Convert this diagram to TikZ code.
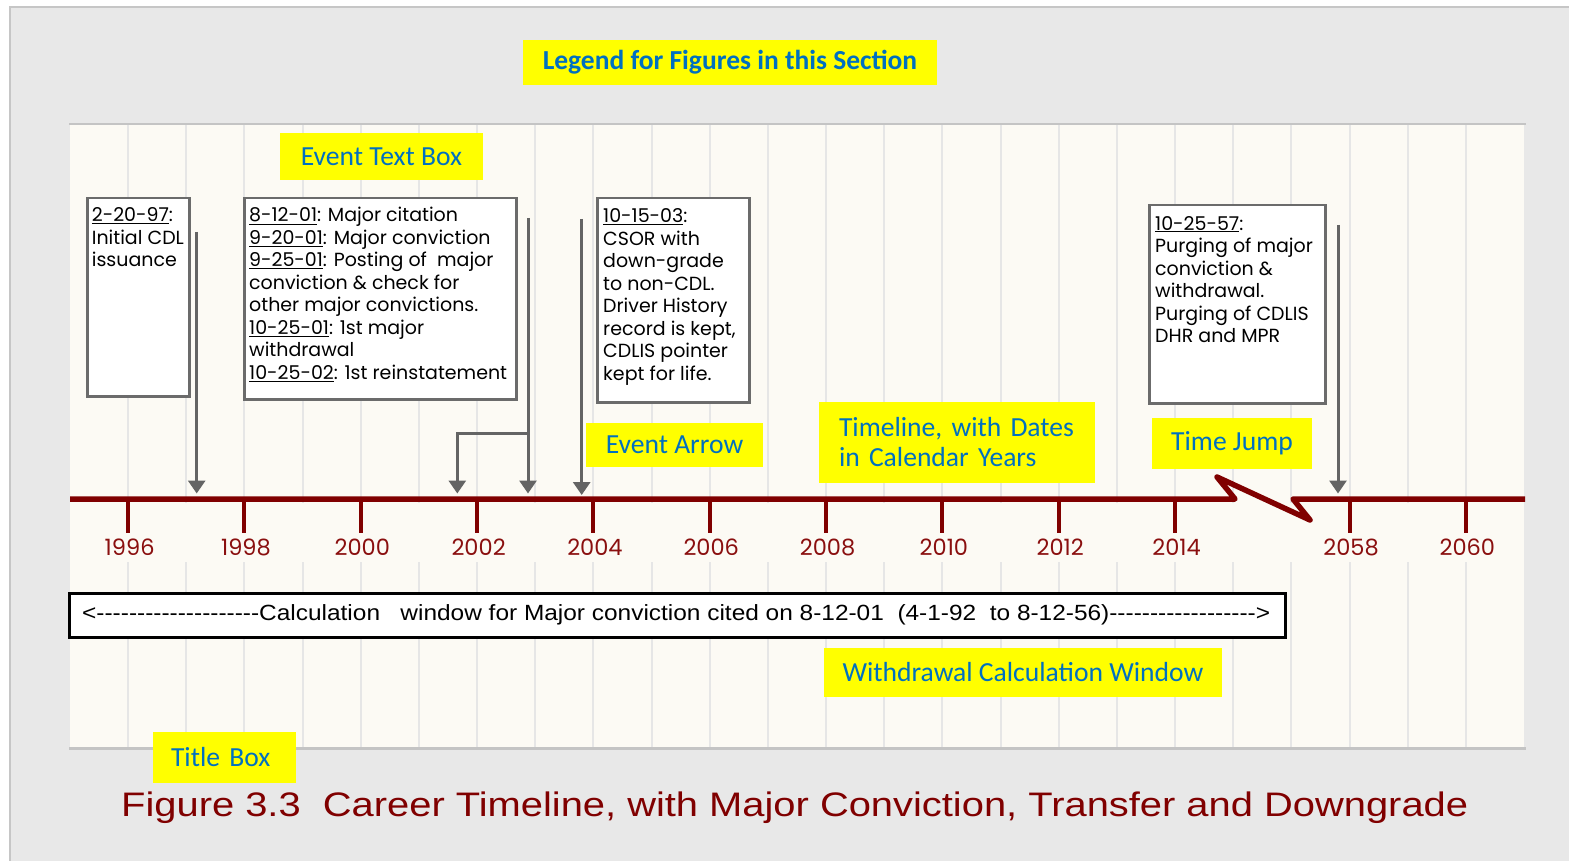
\documentclass[tikz,border=0pt]{standalone}
\usepackage{fontspec}
\usepackage{graphicx}
\setmainfont{Liberation Sans}
\newfontfamily\arialish{Liberation Sans}[Ligatures=TeXOff]
\newfontfamily\gothic{Poppins}
\newfontfamily\calib{Carlito}
\usetikzlibrary{arrows.meta}

\definecolor{framebg}{HTML}{E8E8E8}
\definecolor{framebd}{HTML}{C6C6C6}
\definecolor{plotbg}{HTML}{FCFAF4}
\definecolor{plotbd}{HTML}{C4C4C4}
\definecolor{gridc}{HTML}{E6E6E6}
\definecolor{tlred}{HTML}{800000}
\definecolor{yearred}{HTML}{8A0F0F}
\definecolor{arrowgray}{HTML}{646464}
\definecolor{boxgray}{HTML}{6B6B6B}
\definecolor{noteyellow}{HTML}{FFFF00}
\definecolor{noteblue}{HTML}{0070C0}

\begin{document}
\begin{tikzpicture}[x=1pt,y=-1pt,
  evbox/.style={draw=boxgray, line width=2.5pt, fill=white, inner sep=0pt, anchor=north west},
  evtext/.style={anchor=base west, inner sep=0pt, font=\gothic\fontsize{19}{22.5}\selectfont},
  evarrow/.style={draw=arrowgray, line width=3pt, -{Triangle[width=17pt,length=13pt]}},
  note/.style={fill=noteyellow, text=noteblue, inner sep=0pt, font=\calib\fontsize{27.6}{30}\selectfont},
  gridline/.style={draw=gridc, line width=2pt},
  timeline/.style={draw=tlred, line width=5.5pt, line join=round},
  yeartick/.style={draw=tlred, line width=4pt},
  yearlab/.style={text=yearred, anchor=base, inner sep=0pt, font=\gothic\fontsize{22.5}{22.5}\selectfont}]

\useasboundingbox (0,0) rectangle (1569,861);

% outer frame
\fill[framebg] (10,7) rectangle (1569,861);
\draw[framebd, line width=2pt] (10,861) -- (10,7) -- (1569,7);

% plot area with yearly grid
\fill[plotbg] (70,124) rectangle (1524,748);
\foreach \k in {1,...,24}
  \draw[gridline] ({70+58.16*\k},125) -- ({70+58.16*\k},747);
\fill[plotbg] (70,503) rectangle (1524,562);
\draw[plotbd, line width=2.5pt] (69,124) -- (1526,124);
\draw[plotbd, line width=2.5pt] (69,748.5) -- (1526,748.5);

% event text boxes
\node[evbox, minimum width=102pt, minimum height=198pt] (box97) at (86,197) {};
\node[evtext] (txt97) at (91.7,222) {\parbox[t]{300pt}{\raggedright
  \underline{2-20-97}:\\Initial CDL\\issuance}};

\node[evbox, minimum width=272pt, minimum height=201pt] (box01) at (243,197) {};
\node[evtext] (txt01) at (249,222) {\parbox[t]{300pt}{\raggedright
  \underline{8-12-01}: Major citation\\
  \underline{9-20-01}: Major conviction\\
  \underline{9-25-01}: Posting of\ \ major\\
  conviction \& check for\\
  other major convictions.\\
  \underline{10-25-01}: 1st major\\
  withdrawal\\
  \underline{10-25-02}: 1st reinstatement}};

\node[evbox, minimum width=152pt, minimum height=204pt] (box03) at (596,197) {};
\node[evtext] (txt03) at (603,222.5) {\parbox[t]{300pt}{\raggedright
  \underline{10-15-03}:\\CSOR with\\down-grade\\to non-CDL.\\Driver History\\
  record is kept,\\CDLIS pointer\\kept for life.}};

\node[evbox, minimum width=176pt, minimum height=198pt] (box57) at (1148,204) {};
\node[evtext] (txt57) at (1155,230) {\parbox[t]{300pt}{\raggedright
  \underline{10-25-57}:\\Purging of major\\conviction \&\\withdrawal.\\
  Purging of CDLIS\\DHR and MPR}};

% event arrows
\coordinate (a97s) at (196.7,232);
\coordinate (a97e) at (196.7,493.5);
\coordinate (a02s) at (528,218);
\coordinate (a02e) at (528,493.5);
\coordinate (a01b) at (528,433);
\coordinate (a01e) at (457.3,493.5);
\coordinate (a03s) at (581.7,219);
\coordinate (a03e) at (581.7,495);
\coordinate (a57s) at (1338,225);
\coordinate (a57e) at (1338,493.5);
\draw[evarrow] (a97s) -- (a97e);
\draw[evarrow] (a02s) -- (a02e);
\draw[evarrow] (a01b) -| (a01e);
\draw[evarrow] (a03s) -- (a03e);
\draw[evarrow] (a57s) -- (a57e);

% timeline with the time jump
\draw[timeline] (70,499) -- (1235,499) -- (1217,477) -- (1310,520) -- (1293,499) -- (1525,499);
\foreach \k/\yr in {1/1996,3/1998,5/2000,7/2002,9/2004,11/2006,13/2008,15/2010,17/2012,19/2014,22/2058,24/2060} {
  \draw[yeartick] ({70+58.16*\k},499) -- ({70+58.16*\k},533);
  \node[yearlab] (y\yr) at ({71.5+58.16*\k},555.7) {\yr};
}

% calculation window
\node[draw=black, line width=3pt, fill=white, minimum width=1216pt, minimum height=44pt, inner sep=0pt] (calcwin) at (677,615) {};
\node[anchor=base west, inner sep=0pt] (calctext) at (82,620) {\arialish\fontsize{22}{22}\selectfont
  \resizebox{1188pt}{\height}{<--------------------Calculation\ \ \ window for Major conviction cited on 8-12-01\ \ (4-1-92\ \ to 8-12-56)------------------>}};

% legend notes
\node[note, font=\calib\bfseries\fontsize{27.5}{30}\selectfont, minimum width=414pt, minimum height=45pt] (legend) at (730,62.5) {Legend for Figures in this Section};
\node[note, minimum width=203pt, minimum height=47pt] (notebox) at (381.5,156.5) {Event Text Box};
\node[note, minimum width=177pt, minimum height=44pt] (notearrow) at (674.5,445) {Event Arrow};
\node[note, minimum height=81pt, text width=236pt, inner xsep=20pt, align=left] (noteline) at (957,442.5) {Timeline, with Dates\\in Calendar Years};
\node[note, minimum width=160pt, minimum height=51pt] (notejump) at (1232,443.5) {Time Jump};
\node[note, minimum width=398pt, minimum height=49pt] (notewin) at (1023,672.5) {Withdrawal Calculation Window};
\node[note, minimum height=51pt, text width=107pt, inner xsep=18pt, align=left] (notetitle) at (224.5,757.5) {Title Box};

% figure title
\node[anchor=base west, inner sep=0pt, text=tlred] (title) at (121,816) {\fontsize{34}{34}\selectfont
  \resizebox{1347pt}{\height}{Figure 3.3\ \ Career Timeline, with Major Conviction, Transfer and Downgrade}};
\end{tikzpicture}
\end{document}
